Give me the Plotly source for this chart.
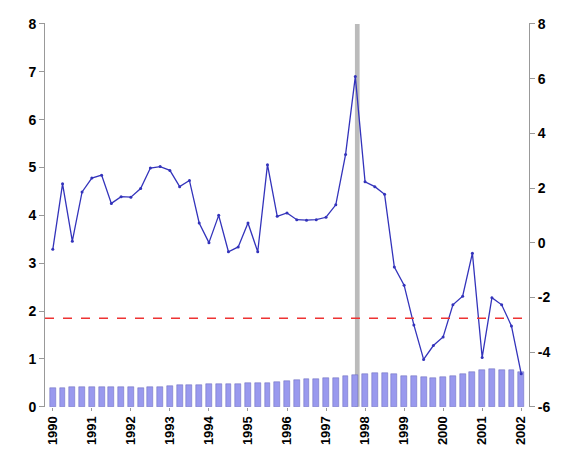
import plotly.graph_objects as go

line_vals = [3.29,4.66,3.46,4.49,4.78,4.84,4.25,4.39,4.38,4.56,4.99,5.02,4.94,4.60,4.73,3.84,
             3.43,4.00,3.24,3.34,3.84,3.24,5.06,3.98,4.05,3.91,3.90,3.91,3.96,4.22,5.27,6.90,
             4.70,4.60,4.44,2.92,2.54,1.71,0.99,1.28,1.46,2.13,2.31,3.21,1.03,2.28,2.13,1.69,0.69]
bar_vals = [.40,.40,.41,.41,.41,.41,.41,.41,.41,.40,.41,.41,.44,.45,.45,.46,.47,.47,.47,.48,
            .49,.49,.49,.52,.54,.55,.57,.59,.60,.60,.64,.66,.69,.70,.70,.68,.65,.64,.62,.60,
            .62,.64,.68,.73,.77,.78,.77,.77,.73]
years = list(range(1990, 2003))
right_ticks = list(range(-6, 9, 2))
x = [1990 + i/4 for i in range(len(line_vals))]
threshold = 1.85
band_x = 1997.8

fig = go.Figure()
fig.add_bar(x=x, y=bar_vals, marker=dict(color="#9999ee", line=dict(color="#6666bb", width=0.5)), width=0.15)
fig.add_scatter(x=x, y=line_vals, mode="lines+markers", line=dict(color="#3333bb", width=1.3),
                marker=dict(size=3, color="#3333bb"))
fig.add_scatter(x=[x[0]], y=[0], yaxis="y2", mode="markers", marker=dict(opacity=0), hoverinfo="skip")
fig.add_shape(type="rect", x0=band_x-0.06, x1=band_x+0.06, y0=0, y1=8, yref="y", fillcolor="#bbbbbb",
              line=dict(width=0), layer="below")
fig.add_shape(type="line", x0=1989.8, x1=2002.2, y0=threshold, y1=threshold,
              line=dict(color="#ee3333", width=1.6, dash="dash"))
tf = dict(family="Liberation Sans, Arial", size=14, color="black", weight="bold")
fig.update_layout(
    width=573, height=462, showlegend=False, plot_bgcolor="white", paper_bgcolor="white",
    margin=dict(l=37, r=52, t=8, b=63), bargap=0,
    font=dict(family="Liberation Sans, Arial", size=14, color="black"),
    xaxis=dict(range=[1989.8, 2002.2], tickvals=years, ticktext=[str(y) for y in years],
               tickangle=-90, showgrid=False, zeroline=False, ticks="outside", ticklen=3,
               tickcolor="#999", tickfont=dict(tf, size=13)),
    yaxis=dict(range=[-0.005, 8.02], tickvals=list(range(9)), showgrid=False, zeroline=False, showline=True,
               linecolor="#999", ticks="outside", ticklen=5, tickcolor="#999", tickfont=tf),
    yaxis2=dict(range=[-6.01, 8.035], tickvals=right_ticks, ticktext=[str(v) for v in right_ticks],
                overlaying="y", side="right",
                showgrid=False, zeroline=False, showline=True, linecolor="#999", ticks="outside",
                ticklen=5, tickcolor="#999", tickfont=tf),
)
fig.write_html("out.html")
